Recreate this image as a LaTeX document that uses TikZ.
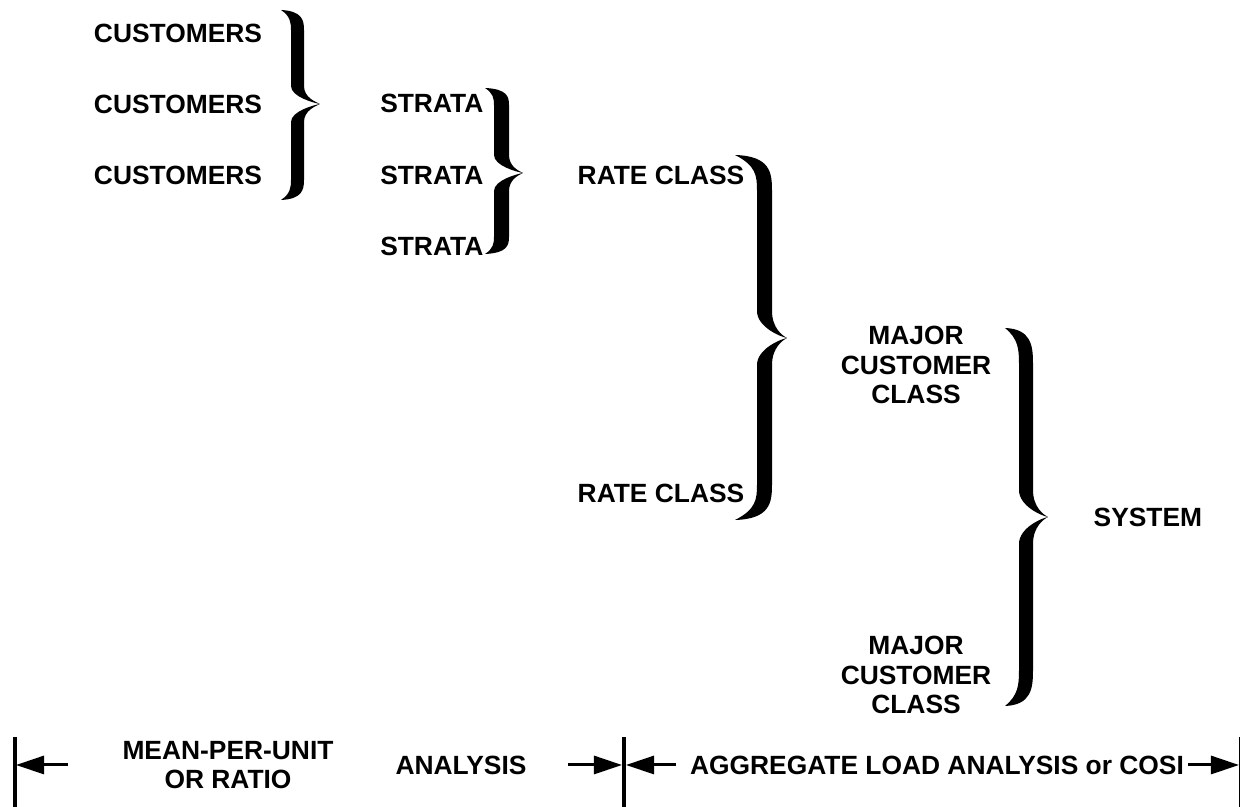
\documentclass[tikz,border=0pt]{standalone}
\usepackage{fontspec}
\setmainfont{Liberation Sans}
\usetikzlibrary{arrows.meta}
% brace: #1 hook x, #2 top y, #3 bottom y, #4 stem left x, #5 stem right x, #6 tip x, #7 tip y, #8 hook height, #9 taper
\newcommand\mybrace[9]{%
  \fill (#1,#2)
    .. controls ({#5-2},{#2+1}) and (#5,{#2+#8*0.5}) .. (#5,{#2+#8})
    -- (#5,{#7-#9})
    .. controls (#5,{#7-#9*0.35}) and ({#6-4},{#7-2}) .. (#6,#7)
    .. controls ({#6-4},{#7+2}) and (#5,{#7+#9*0.35}) .. (#5,{#7+#9})
    -- (#5,{#3-#8})
    .. controls (#5,{#3-#8*0.5}) and ({#5-2},{#3-1}) .. (#1,#3)
    .. controls ({#4-1},{#3-#8*0.3}) and (#4,{#3-#8*0.6}) .. (#4,{#3-#8})
    -- (#4,{#7+#9})
    .. controls (#4,{#7+#9*0.4}) and ({#6-6},{#7+1}) .. (#6,#7)
    .. controls ({#6-6},{#7-1}) and (#4,{#7-#9*0.4}) .. (#4,{#7-#9})
    -- (#4,{#2+#8})
    .. controls (#4,{#2+#8*0.6}) and ({#4-1},{#2+#8*0.3}) .. (#1,#2) -- cycle;}
\tikzset{
  lbl/.style={font=\fontsize{7.5}{8.3}\selectfont\bfseries, inner sep=0pt, align=center},
  arr/.style={line width=0.85pt, -{Triangle[length=0.28cm,width=0.18cm]}},
  bar/.style={line width=1.3pt},
}
\begin{document}
\begin{tikzpicture}[x=0.01cm,y=-0.01cm]
\useasboundingbox (0,0) rectangle (1244,807);
% labels
\node[lbl] (c1) at (178,33) {CUSTOMERS};
\node[lbl] (c2) at (178,104) {CUSTOMERS};
\node[lbl] (c3) at (178,175) {CUSTOMERS};
\node[lbl,anchor=east] (s1) at (484,103) {STRATA};
\node[lbl,anchor=east] (s2) at (484,175) {STRATA};
\node[lbl,anchor=east] (s3) at (484,246) {STRATA};
\node[lbl,anchor=east] (r1) at (745,175) {RATE CLASS};
\node[lbl,anchor=east] (r2) at (745,493) {RATE CLASS};
\node[lbl] (m1) at (916,365) {MAJOR\\CUSTOMER\\CLASS};
\node[lbl] (m2) at (916,675) {MAJOR\\CUSTOMER\\CLASS};
\node[lbl,anchor=west] (sys) at (1093,517) {SYSTEM};
% braces
\mybrace{281}{10}{200}{291}{304}{320}{104}{20}{18}
\mybrace{485}{88}{254}{494}{509}{523}{173}{17}{18}
\mybrace{735}{155}{520}{757}{772}{787}{338}{35}{27}
\mybrace{1005}{328}{706}{1019}{1033}{1048}{517}{35}{27}
% bottom scale
\node[lbl] (mpu) at (228,765) {MEAN-PER-UNIT\\OR RATIO};
\node[lbl] (ana) at (461,765) {ANALYSIS};
\node[lbl] (agg) at (937,765) {AGGREGATE LOAD ANALYSIS or COSI};
\coordinate (b1t) at (15,737); \coordinate (b1b) at (15,807);
\coordinate (b2t) at (624,737); \coordinate (b2b) at (624,807);
\coordinate (b3t) at (1239.5,737); \coordinate (b3b) at (1239.5,807);
\draw[bar] (b1t) -- (b1b);
\draw[bar] (b2t) -- (b2b);
\draw[line width=0.35pt] (b3t) -- (b3b);
\coordinate (a1s) at (68,765); \coordinate (a1e) at (16,765);
\coordinate (a2s) at (568,765); \coordinate (a2e) at (622,765);
\coordinate (a3s) at (676,765); \coordinate (a3e) at (626,765);
\coordinate (a4s) at (1188,765); \coordinate (a4e) at (1239,765);
\draw[arr] (a1s) -- (a1e);
\draw[arr] (a2s) -- (a2e);
\draw[arr] (a3s) -- (a3e);
\draw[arr] (a4s) -- (a4e);
\end{tikzpicture}
\end{document}
